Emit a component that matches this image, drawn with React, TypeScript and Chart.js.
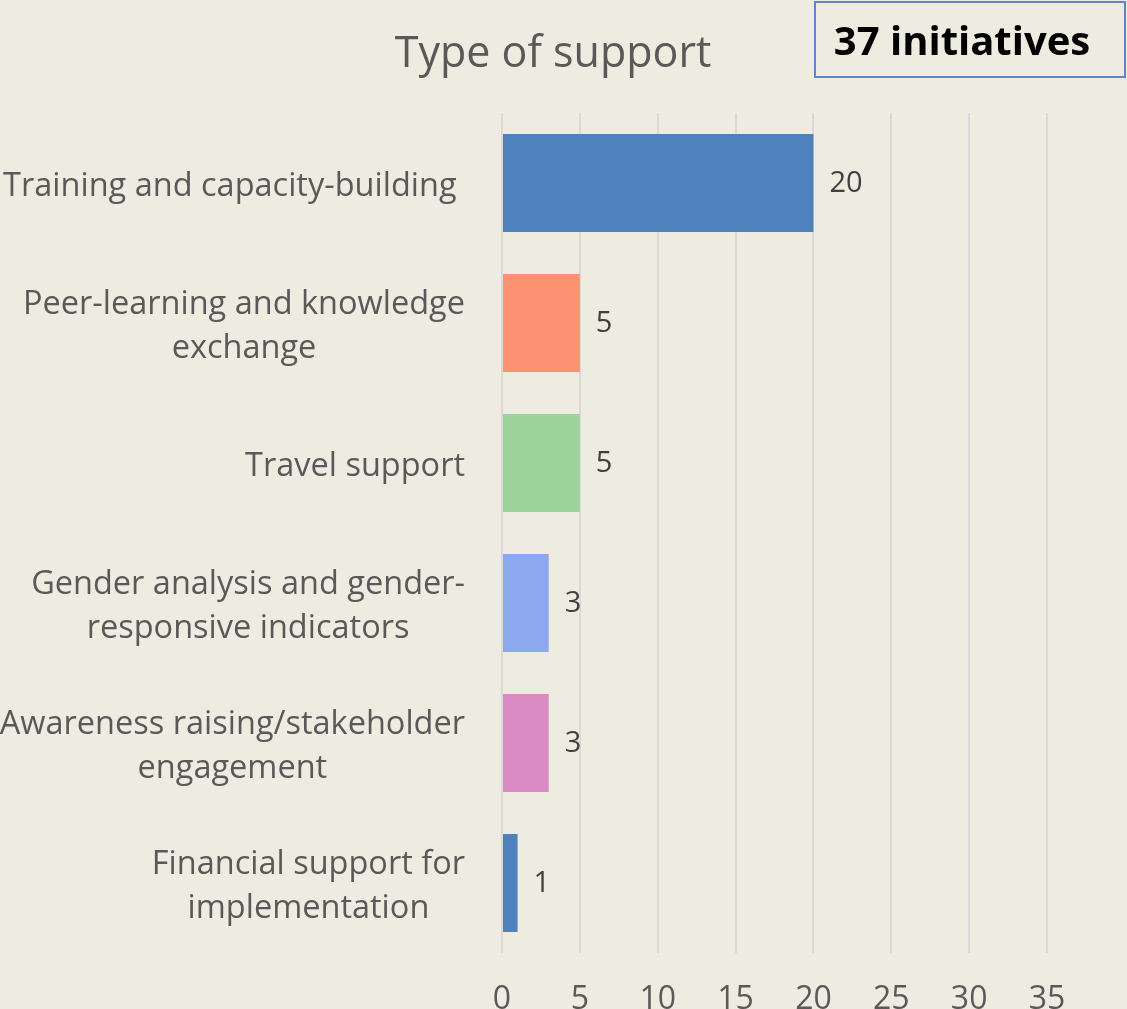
import React, { useEffect, useRef } from "react";
import { Chart, registerables } from "chart.js";

Chart.register(...registerables);

const categories: string[][] = [
  ["Training and capacity-building "],
  ["Peer-learning and knowledge", "exchange"],
  ["Travel support"],
  ["Gender analysis and gender-", "responsive indicators"],
  ["Awareness raising/stakeholder", "engagement"],
  ["Financial support for", "implementation"],
];
const values: number[] = [20, 5, 5, 3, 3, 1];
const barColors: string[] = ["#4F81BD", "#FD9273", "#9DD39A", "#8CA8EE", "#DA8BC3", "#4F81BD"];
const xTicks: number[] = [0, 5, 10, 15, 20, 25, 30, 35];
const titleText = "Type of support";
const boxText = "37 initiatives";

const W = 1127;
const H = 1009;
const FONT = "'Open Sans', sans-serif";
const BG = "#EEEBE0";

const decorPlugin = {
  id: "decor",
  beforeDraw(chart: any) {
    const ctx = chart.ctx;
    ctx.save();
    ctx.fillStyle = BG;
    ctx.fillRect(0, 0, chart.width, chart.height);
    ctx.restore();
  },
  afterDraw(chart: any) {
    const ctx = chart.ctx;
    ctx.save();
    // title
    ctx.fillStyle = "#595959";
    ctx.font = `43px ${FONT}`;
    ctx.textAlign = "center";
    ctx.textBaseline = "alphabetic";
    ctx.fillText(titleText, 553, 67);
    // box
    ctx.strokeStyle = "#5B87C7";
    ctx.lineWidth = 2;
    ctx.strokeRect(815, 2, 310, 75);
    ctx.fillStyle = "#000000";
    ctx.font = `bold 40px ${FONT}`;
    ctx.fillText(boxText, 962, 55);
    // category labels
    const yScale = chart.scales.y;
    ctx.font = `32.5px ${FONT}`;
    ctx.fillStyle = "#595959";
    ctx.textBaseline = "middle";
    ctx.textAlign = "center";
    const lineH = 44;
    const rightEdge = 465;
    categories.forEach((lines, i) => {
      const yc = yScale.getPixelForTick(i) + 4;
      const maxW = Math.max(...lines.map((l) => ctx.measureText(l).width));
      const cx = rightEdge - maxW / 2;
      const y0 = yc - ((lines.length - 1) * lineH) / 2;
      lines.forEach((l, j) => ctx.fillText(l, cx, y0 + j * lineH));
    });
    // value labels
    const meta = chart.getDatasetMeta(0);
    ctx.font = `29px ${FONT}`;
    ctx.fillStyle = "#404040";
    ctx.textAlign = "left";
    meta.data.forEach((bar: any, i: number) => {
      ctx.fillText(String(values[i]), bar.x + 16, bar.y + 1);
    });
    ctx.restore();
  },
};

export default function App() {
  const ref = useRef<HTMLCanvasElement | null>(null);
  useEffect(() => {
    if (!ref.current) return;
    const chart = new Chart(ref.current, {
      type: "bar",
      data: {
        labels: categories.map((c) => c.join(" ")),
        datasets: [
          {
            data: values,
            backgroundColor: barColors,
            borderWidth: 0,
            barPercentage: 0.7,
            categoryPercentage: 1,
          },
        ],
      },
      options: {
        indexAxis: "y",
        animation: false,
        responsive: false,
        maintainAspectRatio: false,
        layout: { padding: { top: 113, right: 80, left: 0, bottom: 0 } },
        plugins: { legend: { display: false }, tooltip: { enabled: false }, title: { display: false } },
        scales: {
          x: {
            min: 0,
            max: 35,
            afterBuildTicks: (scale: any) => {
              scale.ticks = xTicks.map((v) => ({ value: v }));
            },
            afterFit: (scale: any) => {
              scale.height = 56;
            },
            grid: { color: "#D9D9D9", lineWidth: 2, drawTicks: false },
            border: { display: false },
            ticks: {
              color: "#595959",
              font: { family: FONT, size: 32 },
              padding: 28,
            },
          },
          y: {
            afterFit: (scale: any) => {
              scale.width = 502;
            },
            grid: { display: false },
            border: { display: false },
            ticks: { display: false },
          },
        },
      },
      plugins: [decorPlugin],
    });
    return () => chart.destroy();
  }, []);
  return (
    <div style={{ position: "fixed", left: 0, top: 0, width: W, height: H, background: BG }}>
      <canvas ref={ref} width={W} height={H} style={{ width: W, height: H, display: "block" }} />
    </div>
  );
}
